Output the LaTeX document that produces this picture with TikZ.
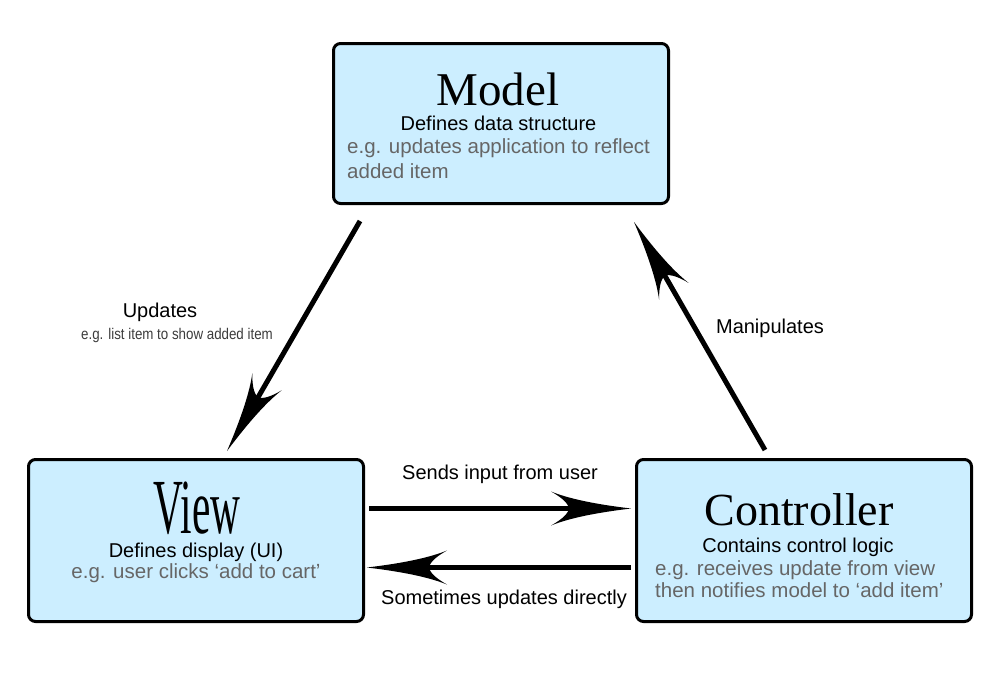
\documentclass[tikz,border=0pt]{standalone}
\usepackage{graphicx}
\usepackage{fontspec}
\setmainfont{Liberation Serif}
\setsansfont{Liberation Sans}
\newfontfamily\lsans{Liberation Sans}
\usetikzlibrary{calc,arrows.meta}
\definecolor{boxfill}{RGB}{204,238,255}
\definecolor{egray}{RGB}{102,102,102}
\definecolor{smallgray}{RGB}{60,60,60}
\pgfdeclarearrow{
  name = Swoop,
  setup code = {
    \pgfarrowssettipend{0pt}
    \pgfarrowssetlineend{-58pt}
    \pgfarrowssetbackend{-80pt}
  },
  drawing code = {
    \pgfpathmoveto{\pgfpoint{0pt}{0pt}}
    \pgfpathcurveto{\pgfpoint{-25pt}{3pt}}{\pgfpoint{-58pt}{8pt}}{\pgfpoint{-80pt}{17pt}}
    \pgfpathcurveto{\pgfpoint{-71pt}{12pt}}{\pgfpoint{-63pt}{6pt}}{\pgfpoint{-62pt}{0pt}}
    \pgfpathcurveto{\pgfpoint{-63pt}{-6pt}}{\pgfpoint{-71pt}{-12pt}}{\pgfpoint{-80pt}{-17pt}}
    \pgfpathcurveto{\pgfpoint{-58pt}{-8pt}}{\pgfpoint{-25pt}{-3pt}}{\pgfpoint{0pt}{0pt}}
    \pgfpathclose
    \pgfusepathqfill
  }
}
\tikzset{
  box/.style={draw=black, line width=3pt, rounded corners=7pt, fill=boxfill,
    minimum width=335pt, minimum height=162pt, inner sep=0pt},
  conn/.style={line width=5pt, -Swoop},
  title/.style={font=\fontsize{47}{50}\selectfont, anchor=base, inner sep=0pt},
  sub/.style={font=\lsans\fontsize{20}{24}\selectfont, anchor=base, inner sep=0pt},
  eg/.style={font=\lsans\fontsize{20.5}{24}\selectfont, text=egray, anchor=base west, inner sep=0pt},
  lbl/.style={font=\lsans\fontsize{20}{24}\selectfont, anchor=base, inner sep=0pt},
}
\begin{document}
\begin{tikzpicture}[x=1pt, y=-1pt]
\useasboundingbox[fill=white] (0,0) rectangle (995,683);

% boxes
\node[box, minimum height=160pt] (model) at (501,123.5) {};
\node[box] (view) at (196,540.5) {};
\node[box] (ctrl) at (804,540.5) {};

% model texts
\node[title] (mt) at (498,105) {Model};
\node[sub] (ms) at (498.5,130) {Defines data structure};
\node[eg] (me1) at (347,153) {e.g. updates application to reflect};
\node[eg] (me2) at (347,178) {added item};

% view texts
\node[anchor=base, inner sep=0pt] (vt) at (197,533) {\scalebox{0.53}[1]{\fontsize{78}{80}\selectfont View}};
\node[sub] (vs) at (196,557) {Defines display (UI)};
\node[eg, anchor=base] (ve) at (196,578) {e.g. user clicks ‘add to cart’};

% controller texts
\node[title, font=\fontsize{46}{50}\selectfont] (ct) at (799,525) {Controller};
\node[sub] (cs) at (798,552) {Contains control logic};
\node[eg] (ce1) at (655,575) {e.g. receives update from view};
\node[eg] (ce2) at (655,597) {then notifies model to ‘add item’};

% connectors
\coordinate (mvs) at ($(model.south west)+(28,16)$);
\coordinate (mve) at ($(view.north west)+(200,-7)$);
\draw[conn] (mvs) -- (mve);

\coordinate (cms) at ($(ctrl.north west)+(130,-8)$);
\coordinate (cme) at ($(model.south east)+(-36,17)$);
\draw[conn] (cms) -- (cme);

\coordinate (vcs) at ($(view.east)+(4,-32)$);
\coordinate (vce) at ($(ctrl.west)+(-4,-32)$);
\draw[conn] (vcs) -- (vce);

\coordinate (cvs) at ($(ctrl.west)+(-4,27)$);
\coordinate (cve) at ($(view.east)+(2,27)$);
\draw[conn] (cvs) -- (cve);

% labels
\node[lbl] (lu) at (160,317) {Updates};
\node[anchor=base, inner sep=0pt, text=smallgray] (lue) at (177,339) {\scalebox{0.86}[1]{\lsans\fontsize{15.5}{18}\selectfont e.g. list item to show added item}};
\node[lbl] (lm) at (770,333) {Manipulates};
\node[lbl] (ls) at (500,479) {Sends input from user};
\node[lbl] (ld) at (504,604) {Sometimes updates directly};
\end{tikzpicture}
\end{document}
